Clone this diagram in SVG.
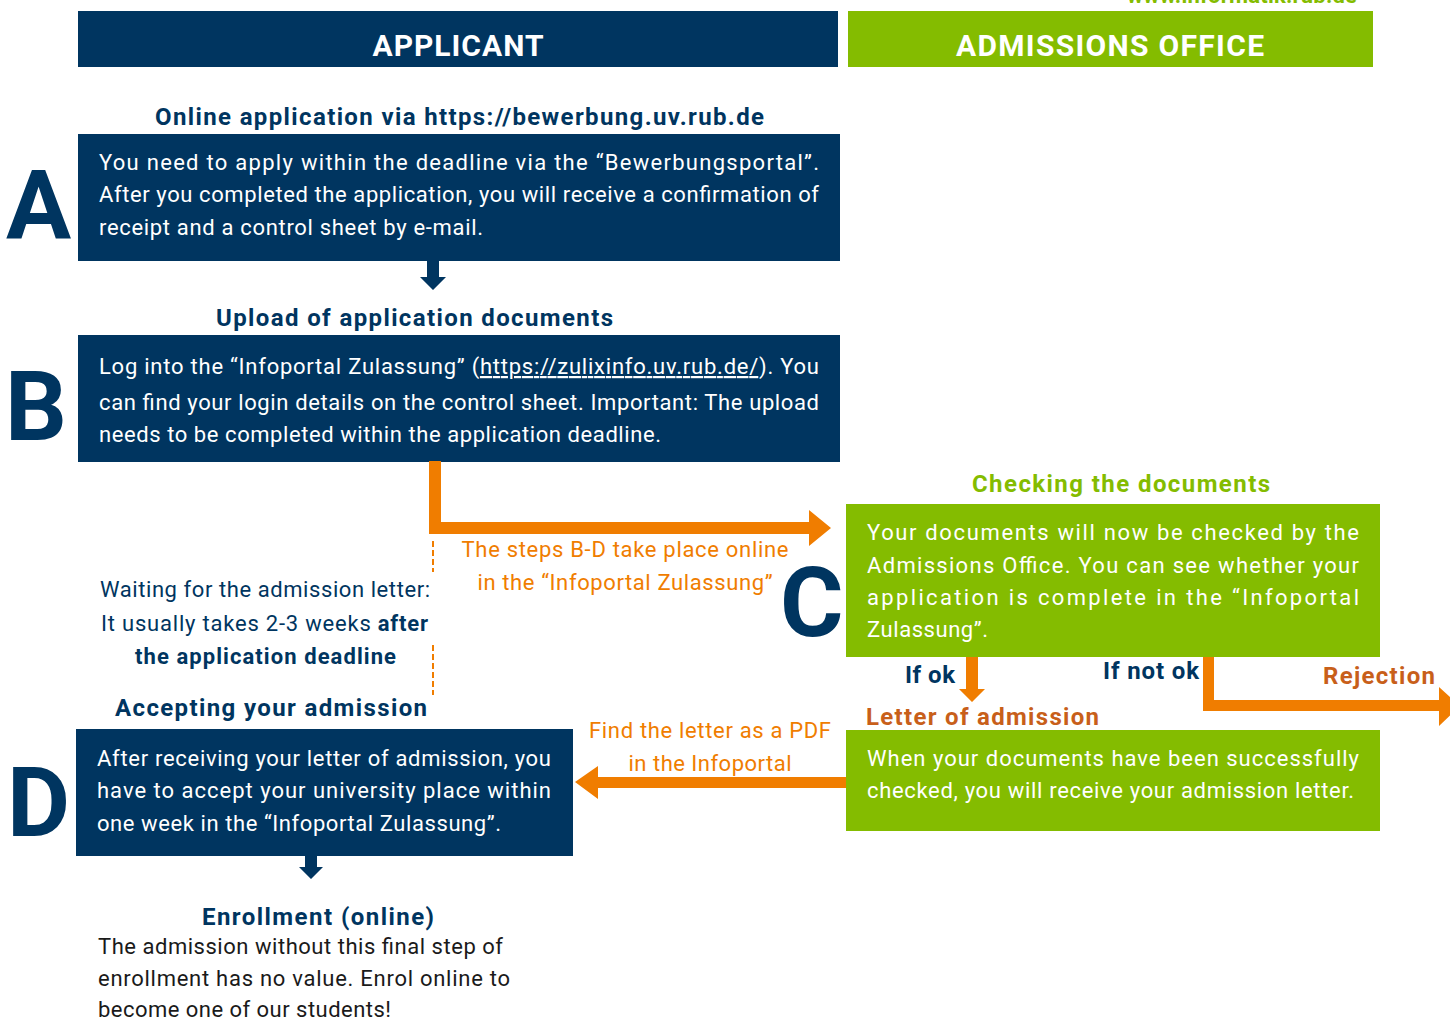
<svg xmlns="http://www.w3.org/2000/svg" width="1450" height="1021" viewBox="0 0 1450 1021">
<style>
text{font-family:Roboto,"Liberation Sans",sans-serif;}
.hdr{font-size:30px;font-weight:bold;fill:#fff;text-anchor:middle;}
.h{font-size:24px;font-weight:bold;fill:#003560;}
.hg{font-size:24px;font-weight:bold;fill:#84bc00;}
.hb{font-size:24px;font-weight:bold;fill:#c85f1a;}
.w{font-size:22px;fill:#fff;}
.o{font-size:22px;fill:#f07d00;}
.n{font-size:22px;fill:#003560;}
.k{font-size:22px;fill:#1a1a1a;}
.big{font-size:97px;font-weight:bold;fill:#003560;}
.navy{fill:#003560;}
.green{fill:#84bc00;}
.orange{fill:#f07d00;}
</style>
<rect width="1450" height="1021" fill="#fff"/>
<text x="1242" y="3" style="font-size:22px;font-weight:bold;fill:#84bc00;text-anchor:middle" textLength="230" lengthAdjust="spacing">www.informatik.rub.de</text>

<g id="header-applicant">
<rect x="78" y="11" width="760" height="56" class="navy"/>
<text x="458" y="56" class="hdr" textLength="171" lengthAdjust="spacing">APPLICANT</text>
</g>
<g id="header-office">
<rect x="848" y="11" width="525" height="56" class="green"/>
<text x="1110" y="56" class="hdr" textLength="308" lengthAdjust="spacing">ADMISSIONS OFFICE</text>
</g>

<g id="node-a">
<text x="155" y="125" class="h" textLength="609" lengthAdjust="spacing">Online application via https://bewerbung.uv.rub.de</text>
<text x="6" y="238" class="big">A</text>
<rect x="78" y="134" width="762" height="127" class="navy"/>
<text x="99" y="170" class="w" textLength="720" lengthAdjust="spacing">You need to apply within the deadline via the “Bewerbungsportal”.</text>
<text x="99" y="202" class="w" textLength="720" lengthAdjust="spacing">After you completed the application, you will receive a confirmation of</text>
<text x="99" y="235" class="w" textLength="384" lengthAdjust="spacing">receipt and a control sheet by e-mail.</text>
</g>

<g id="node-b">
<text x="216" y="326" class="h" textLength="397" lengthAdjust="spacing">Upload of application documents</text>
<text x="5" y="440" class="big">B</text>
<rect x="78" y="335" width="762" height="127" class="navy"/>
<text x="99" y="374" class="w" textLength="720" lengthAdjust="spacing">Log into the “Infoportal Zulassung” (<tspan text-decoration="underline">https://zulixinfo.uv.rub.de/</tspan>). You</text>
<text x="99" y="410" class="w" textLength="720" lengthAdjust="spacing">can find your login details on the control sheet. Important: The upload</text>
<text x="99" y="442" class="w" textLength="562" lengthAdjust="spacing">needs to be completed within the application deadline.</text>
</g>

<g id="node-waiting">
<text x="100" y="597" class="n" textLength="330" lengthAdjust="spacing">Waiting for the admission letter:</text>
<text x="101" y="631" class="n" textLength="327" lengthAdjust="spacing">It usually takes 2-3 weeks <tspan font-weight="bold">after</tspan></text>
<text x="135" y="664" class="n" font-weight="bold" textLength="261" lengthAdjust="spacing">the application deadline</text>
</g>

<g id="node-c">
<text x="972" y="492" class="hg" textLength="298" lengthAdjust="spacing">Checking the documents</text>
<text x="780" y="636" class="big">C</text>
<rect x="846" y="504" width="534" height="153" class="green"/>
<text x="867" y="540" class="w" textLength="492" lengthAdjust="spacing">Your documents will now be checked by the</text>
<text x="867" y="573" class="w" textLength="492" lengthAdjust="spacing">Admissions Office. You can see whether your</text>
<text x="867" y="605" class="w" textLength="492" lengthAdjust="spacing">application is complete in the “Infoportal</text>
<text x="867" y="637" class="w" textLength="121" lengthAdjust="spacing">Zulassung”.</text>
</g>

<g id="node-rejection">
<text x="1323" y="684" class="hb" textLength="112" lengthAdjust="spacing">Rejection</text>
</g>

<g id="node-letter">
<text x="866" y="725" class="hb" textLength="233" lengthAdjust="spacing">Letter of admission</text>
<rect x="846" y="730" width="534" height="101" class="green"/>
<text x="867" y="766" class="w" textLength="492" lengthAdjust="spacing">When your documents have been successfully</text>
<text x="867" y="798" class="w" textLength="487" lengthAdjust="spacing">checked, you will receive your admission letter.</text>
</g>

<g id="node-d">
<text x="115" y="716" class="h" textLength="312" lengthAdjust="spacing">Accepting your admission</text>
<text x="7" y="836" class="big">D</text>
<rect x="76" y="729" width="497" height="127" class="navy"/>
<text x="97" y="766" class="w" textLength="454" lengthAdjust="spacing">After receiving your letter of admission, you</text>
<text x="97" y="798" class="w" textLength="454" lengthAdjust="spacing">have to accept your university place within</text>
<text x="97" y="831" class="w" textLength="404" lengthAdjust="spacing">one week in the “Infoportal Zulassung”.</text>
</g>

<g id="node-enrollment">
<text x="202" y="925" class="h" textLength="232" lengthAdjust="spacing">Enrollment (online)</text>
<text x="98" y="954" class="k" textLength="405" lengthAdjust="spacing">The admission without this final step of</text>
<text x="98" y="986" class="k" textLength="412" lengthAdjust="spacing">enrollment has no value. Enrol online to</text>
<text x="98" y="1017" class="k" textLength="293" lengthAdjust="spacing">become one of our students!</text>
</g>

<g id="connectors">
<polygon class="navy" points="427,261 439,261 439,277 446,277 433,290 420,277 427,277"/>
<polygon class="navy" points="305,856 317,856 317,867 323,867 311,879 299,867 305,867"/>
<polygon class="orange" points="429,461 441,461 441,522 809,522 809,510 831,528 809,546 809,534 429,534"/>
<text x="625" y="557" class="o" text-anchor="middle" textLength="327" lengthAdjust="spacing">The steps B-D take place online</text>
<text x="625" y="590" class="o" text-anchor="middle" textLength="295" lengthAdjust="spacing">in the “Infoportal Zulassung”</text>
<line x1="433" y1="541" x2="433" y2="572" stroke="#f07d00" stroke-width="2" stroke-dasharray="6,3"/>
<line x1="433" y1="645" x2="433" y2="695" stroke="#f07d00" stroke-width="2" stroke-dasharray="6,3"/>
<polygon class="orange" points="966,657 978,657 978,689 985,689 972,702 959,689 966,689"/>
<text x="905" y="683" class="h" textLength="50" lengthAdjust="spacing">If ok</text>
<polygon class="orange" points="1203,657 1214,657 1214,700 1439,700 1439,687 1460,706 1439,726 1439,711 1203,711"/>
<text x="1103" y="679" class="h" textLength="96" lengthAdjust="spacing">If not ok</text>
<polygon class="orange" points="846,777 846,788 598,788 598,799 575,782 598,766 598,777"/>
<text x="710" y="738" class="o" text-anchor="middle" textLength="242" lengthAdjust="spacing">Find the letter as a PDF</text>
<text x="710" y="771" class="o" text-anchor="middle" textLength="163" lengthAdjust="spacing">in the Infoportal</text>
</g>
</svg>
